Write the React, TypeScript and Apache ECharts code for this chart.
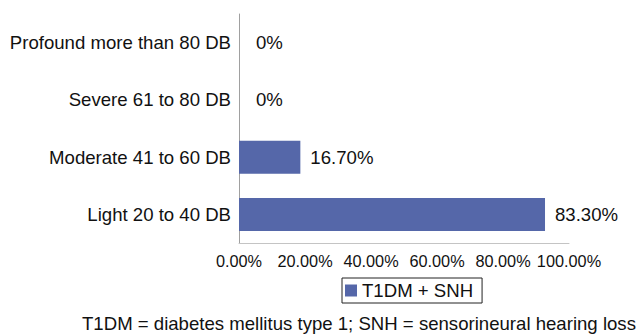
import React, { useEffect, useRef } from "react";
import * as echarts from "echarts";

// Hearing-loss grades, listed top to bottom
const categories = [
  "Profound more than 80 DB",
  "Severe 61 to 80 DB",
  "Moderate 41 to 60 DB",
  "Light 20 to 40 DB",
];
const seriesName = "T1DM + SNH";
const values = [0, 0, 16.7, 83.3];
const axisTicks = [0, 20, 40, 60, 80, 100];
const footnote =
  "T1DM = diabetes mellitus type 1; SNH = sensorineural hearing loss";

const FONT = "'Liberation Sans', Arial, Helvetica, sans-serif";
const BAR_COLOR = "#5567a9";
const TEXT_SIZE = 18.6;

export default function App() {
  const ref = useRef<HTMLDivElement>(null);

  useEffect(() => {
    document.body.style.margin = "0";
    if (!ref.current) return;
    const chart = echarts.init(ref.current, undefined, { renderer: "svg" });

    const fmtPct = (v: number) => (v === 0 ? "0%" : v.toFixed(2) + "%");

    chart.setOption({
      animation: false,
      textStyle: { fontFamily: FONT, color: "#111" },
      grid: { left: 239, top: 14, width: 330, height: 229, containLabel: false },
      title: {
        text: footnote,
        left: 82,
        top: 314,
        padding: 0,
        textStyle: {
          fontFamily: FONT,
          fontSize: TEXT_SIZE,
          fontWeight: "normal",
          color: "#111",
        },
      },
      legend: {
        data: [seriesName],
        left: 342,
        top: 278,
        orient: "horizontal",
        icon: "rect",
        itemWidth: 12,
        itemHeight: 12,
        padding: [3, 9, 3, 3],
        borderColor: "#222",
        borderWidth: 1,
        borderRadius: 0,
        textStyle: { fontFamily: FONT, fontSize: TEXT_SIZE, color: "#111" },
      },
      xAxis: [
        {
          type: "value",
          min: axisTicks[0],
          max: axisTicks[axisTicks.length - 1],
          interval: axisTicks[1] - axisTicks[0],
          axisLine: { show: true, lineStyle: { color: "#c4c4c4", width: 1 } },
          axisTick: { show: false },
          splitLine: { show: false },
          axisLabel: {
            formatter: (v: number) => v.toFixed(2) + "%",
            fontFamily: FONT,
            fontSize: 16.3,
            color: "#111",
            margin: 10,
          },
        },
        {
          type: "value",
          show: false,
          min: 0,
          max: 89.83,
          splitLine: { show: false },
        },
      ],
      yAxis: {
        type: "category",
        data: categories,
        inverse: true,
        axisLine: { show: true, lineStyle: { color: "#a0a0a0", width: 1 } },
        axisTick: { show: false },
        axisLabel: {
          fontFamily: FONT,
          fontSize: TEXT_SIZE,
          color: "#111",
          margin: 8,
        },
      },
      series: [
        {
          name: seriesName,
          type: "bar",
          xAxisIndex: 1,
          barWidth: 33,
          itemStyle: { color: BAR_COLOR },
          data: values.map((v) => ({
            value: v,
            label: { distance: v === 0 ? 17 : 10 },
          })),
          label: {
            show: true,
            position: "right",
            formatter: (p: any) => fmtPct(p.value),
            fontFamily: FONT,
            fontSize: TEXT_SIZE,
            color: "#111",
          },
        },
      ],
    });

    return () => chart.dispose();
  }, []);

  return <div ref={ref} style={{ width: 637, height: 335 }} />;
}
